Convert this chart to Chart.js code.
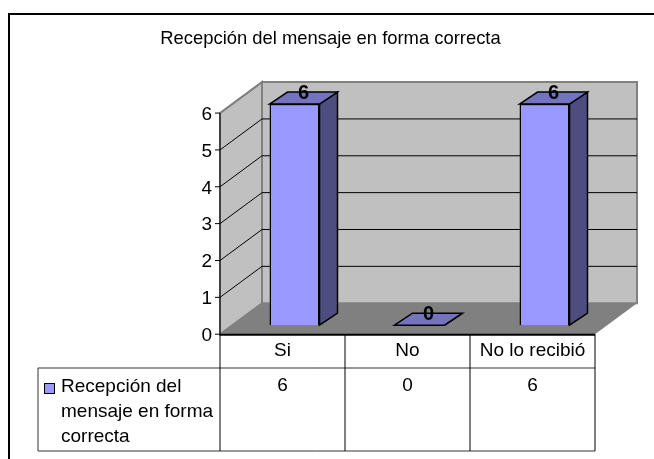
<!DOCTYPE html>
<html>
<head>
<meta charset="utf-8">
<style>
  html, body { margin: 0; padding: 0; background: #fff; overflow: hidden; }
  #wrap { position: relative; width: 654px; height: 459px; }
</style>
<script src="https://cdn.jsdelivr.net/npm/chart.js@4/dist/chart.umd.min.js"></script>
</head>
<body>
<div id="wrap"><canvas id="chart" width="654" height="459"></canvas></div>
<script>
const categories = ['Si', 'No', 'No lo recibió'];
const seriesName = 'Recepción del mensaje en forma correcta';
const seriesLines = ['Recepción del', 'mensaje en forma', 'correcta'];
const values = [6, 0, 6];
const yTicks = [0, 1, 2, 3, 4, 5, 6];

const FONT = '"Liberation Sans", Arial, sans-serif';
const depth = { x: 42, y: 31 };      // floor/wall offset
const barShift = { x: 12, y: 9 };    // bars stand a bit behind the front edge
const barDepth = { x: 18, y: 12 };

const poly = (ctx, pts, fill, stroke, lw) => {
    ctx.beginPath();
    pts.forEach((p, i) => i ? ctx.lineTo(p[0], p[1]) : ctx.moveTo(p[0], p[1]));
    ctx.closePath();
    if (fill) { ctx.fillStyle = fill; ctx.fill(); }
    if (stroke) { ctx.strokeStyle = stroke; ctx.lineWidth = lw || 1; ctx.stroke(); }
};
const line = (ctx, x1, y1, x2, y2, color, lw) => {
    ctx.beginPath();
    ctx.moveTo(x1, y1);
    ctx.lineTo(x2, y2);
    ctx.strokeStyle = color;
    ctx.lineWidth = lw || 1;
    ctx.stroke();
};

// walls and floor behind the bars
const walls = {
    id: 'walls',
    beforeDatasetsDraw(chart) {
        const { ctx, scales: { y }, chartArea: a } = chart;
        const l = a.left, r = a.right, t = y.getPixelForValue(6), b = y.getPixelForValue(0);
        const dx = depth.x, dy = depth.y;
        ctx.save();
        poly(ctx, [[l, b], [l + dx, b - dy], [l + dx, t - dy], [l, t]], '#c0c0c0', '#808080', 2);
        poly(ctx, [[l + dx, b - dy], [r + dx, b - dy], [r + dx, t - dy], [l + dx, t - dy]], '#c0c0c0', '#808080', 2);
        yTicks.slice(1, -1).forEach(v => {
            const py = y.getPixelForValue(v);
            line(ctx, l, py, l + dx, py - dy, '#000');
            line(ctx, l + dx, py - dy, r + dx, py - dy, '#000');
        });
        poly(ctx, [[l, b], [r, b], [r + dx, b - dy], [l + dx, b - dy]], '#808080');
        line(ctx, l, t, l, b, '#000');
        yTicks.forEach(v => {
            const py = y.getPixelForValue(v);
            line(ctx, l - 5, py, l, py, '#000');
        });
        line(ctx, l, b + 0.5, r, b + 0.5, '#000', 2);
        ctx.restore();
    }
};

// bars get shifted into the floor, then side + top faces added
const bars3d = {
    id: 'bars3d',
    beforeDatasetDraw(chart) {
        const { ctx } = chart;
        ctx.save();
        ctx.translate(barShift.x, -barShift.y);
        chart.getDatasetMeta(0).data.forEach(bar => {
            const p = bar.getProps(['x', 'y', 'base', 'width']);
            const x1 = p.x - p.width / 2, x2 = p.x + p.width / 2;
            const dx = barDepth.x, dy = barDepth.y;
            poly(ctx, [[x2, p.base], [x2 + dx, p.base - dy], [x2 + dx, p.y - dy], [x2, p.y]], '#4d4d80', '#000', 1.5);
            poly(ctx, [[x1, p.y], [x1 + dx, p.y - dy], [x2 + dx, p.y - dy], [x2, p.y]], '#7373bf', '#000', 1.5);
        });
    },
    afterDatasetDraw(chart) {
        const { ctx } = chart;
        chart.getDatasetMeta(0).data.forEach((bar, i) => {
            const p = bar.getProps(['x', 'y']);
            ctx.fillStyle = '#000';
            ctx.font = 'bold 20px ' + FONT;
            ctx.textAlign = 'center';
            ctx.textBaseline = 'middle';
            ctx.fillText(values[i], p.x + barDepth.x / 2, p.y - barDepth.y + 1);
        });
        ctx.restore();
    }
};

// frame and data table under the axis
const dataTable = {
    id: 'dataTable',
    afterDraw(chart) {
        const { ctx, scales: { x, y }, chartArea: a } = chart;
        const b = y.getPixelForValue(0);
        const rowTop = 368, rowBottom = 451, left = 38;
        ctx.save();
        // chart frame, only top and left are in the picture
        ctx.beginPath();
        ctx.moveTo(9, 459); ctx.lineTo(9, 14); ctx.lineTo(654, 14);
        ctx.strokeStyle = '#000'; ctx.lineWidth = 2; ctx.stroke();
        // grid
        line(ctx, left, rowTop, a.right, rowTop, '#333');
        line(ctx, left, rowBottom, a.right, rowBottom, '#333');
        line(ctx, left, rowTop, left, rowBottom, '#333');
        line(ctx, a.left, b, a.left, rowBottom, '#000');
        line(ctx, a.right, b, a.right, rowBottom, '#000');
        categories.forEach((c, i) => {
            if (i > 0) {
                const px = (x.getPixelForValue(i - 1) + x.getPixelForValue(i)) / 2;
                line(ctx, px, b, px, rowBottom, '#000');
            }
        });
        // values
        ctx.fillStyle = '#000';
        ctx.font = '19px ' + FONT;
        ctx.textBaseline = 'middle';
        ctx.textAlign = 'center';
        values.forEach((v, i) => ctx.fillText(v, x.getPixelForValue(i), 386));
        // legend key + name
        ctx.textAlign = 'left';
        ctx.fillStyle = '#9999ff';
        ctx.fillRect(44.5, 383.5, 10, 10);
        ctx.strokeStyle = '#000';
        ctx.lineWidth = 1;
        ctx.strokeRect(44.5, 383.5, 10, 10);
        ctx.fillStyle = '#000';
        seriesLines.forEach((t, i) => ctx.fillText(t, 61, 387 + i * 25));
        ctx.restore();
    }
};

new Chart(document.getElementById('chart'), {
    type: 'bar',
    data: {
        labels: categories,
        datasets: [{
            label: seriesName,
            data: values,
            backgroundColor: '#9999ff',
            borderColor: '#000',
            borderWidth: 1.5,
            barPercentage: 0.4,
            categoryPercentage: 1,
            clip: false
        }]
    },
    options: {
        responsive: false,
        animation: false,
        layout: { padding: { top: 28, right: 59, bottom: 100, left: 66 } },
        plugins: {
            legend: { display: false },
            tooltip: { enabled: false },
            title: {
                display: true,
                text: seriesName,
                color: '#000',
                font: { family: FONT, size: 18.4, weight: 'normal' },
                padding: { top: 0, bottom: 63 }
            }
        },
        scales: {
            x: {
                grid: { display: false },
                border: { display: false },
                ticks: { color: '#000', font: { family: FONT, size: 19 }, padding: -3, maxRotation: 0 }
            },
            y: {
                min: 0, max: 6,
                afterFit(scale) { scale.width = 154; },
                grid: { display: false, drawTicks: false },
                border: { display: false },
                ticks: { stepSize: 1, color: '#000', font: { family: FONT, size: 19 }, padding: 8, labelOffset: 1.5 }
            }
        }
    },
    plugins: [walls, bars3d, dataTable]
});
</script>
</body>
</html>
